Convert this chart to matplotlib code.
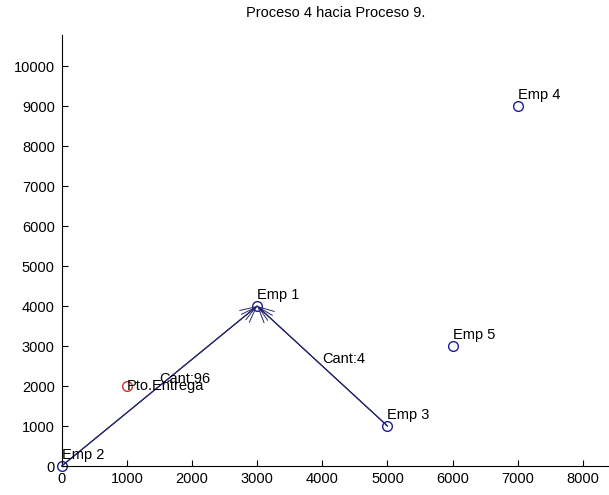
import matplotlib
matplotlib.use('Agg')
import matplotlib.pyplot as plt

# nodes
emp_labels = ['Emp 1', 'Emp 2', 'Emp 3', 'Emp 4', 'Emp 5']
emp_x = [3000, 0, 5000, 7000, 6000]
emp_y = [4000, 0, 1000, 9000, 3000]

# delivery point
pto_label = 'Pto.Entrega'
pto_x = 1000
pto_y = 2000

# routes (from index, to index, quantity)
route_from = [1, 2]
route_to = [0, 0]
route_qty = ['Cant:96', 'Cant:4']

xticks = [0, 1000, 2000, 3000, 4000, 5000, 6000, 7000, 8000]
yticks = [0, 1000, 2000, 3000, 4000, 5000, 6000, 7000, 8000, 9000, 10000]

plt.rcParams['font.family'] = ['Liberation Sans', 'DejaVu Sans']
FS = 10.5
blue = '#1c1c96'
line_c = '#26266e'

fig = plt.figure(figsize=(6.09, 4.95), dpi=100)
W, H = 609.0, 495.0
ax = fig.add_axes([61.7 / W, (H - 466) / H, (W - 61.7) / W, (466 - 35) / H])

ax.set_xlim(0, 8400)
ax.set_ylim(0, 10775)

# routes with arrow heads at destination
for f, t, q in zip(route_from, route_to, route_qty):
    x0, y0 = emp_x[f], emp_y[f]
    x1, y1 = emp_x[t], emp_y[t]
    ax.plot([x0, x1], [y0, y1], color=line_c, lw=0.8, clip_on=False)
    for hw in [0.25, 0.55]:
        ax.annotate('', xy=(x1, y1), xytext=(x0, y0),
                    arrowprops=dict(arrowstyle='->, head_length=1.1, head_width=%.2f' % hw,
                                    color=line_c, lw=0.7, shrinkA=0, shrinkB=0))
    ax.annotate(q, ((x0 + x1) / 2.0, (y0 + y1) / 2.0), xytext=(0, 2),
                textcoords='offset points', ha='left', va='baseline', fontsize=FS)

ax.plot(emp_x, emp_y, 'o', mfc='none', mec=blue, ms=7, mew=1.0, clip_on=False)
for lab, x, y in zip(emp_labels, emp_x, emp_y):
    ax.annotate(lab, (x, y), xytext=(0, 5), textcoords='offset points',
                ha='left', va='baseline', fontsize=FS)

ax.plot([pto_x], [pto_y], 'o', mfc='none', mec='#c83232', ms=7, mew=1.0)
ax.annotate(pto_label, (pto_x, pto_y), xytext=(0, -3), textcoords='offset points',
            ha='left', va='baseline', fontsize=FS)

ax.spines['top'].set_visible(False)
ax.spines['right'].set_visible(False)
for s in ['left', 'bottom']:
    ax.spines[s].set_linewidth(0.8)
ax.set_xticks(xticks)
ax.set_yticks(yticks)
ax.tick_params(direction='in', length=4, width=0.8, labelsize=FS)
ax.tick_params(axis='x', pad=4)
ax.tick_params(axis='y', pad=5)

fig.text(335.5 / W, 1 - 13 / H, 'Proceso 4 hacia Proceso 9.', ha='center', va='center',
         fontsize=FS)

fig.savefig('out.png', dpi=100)
